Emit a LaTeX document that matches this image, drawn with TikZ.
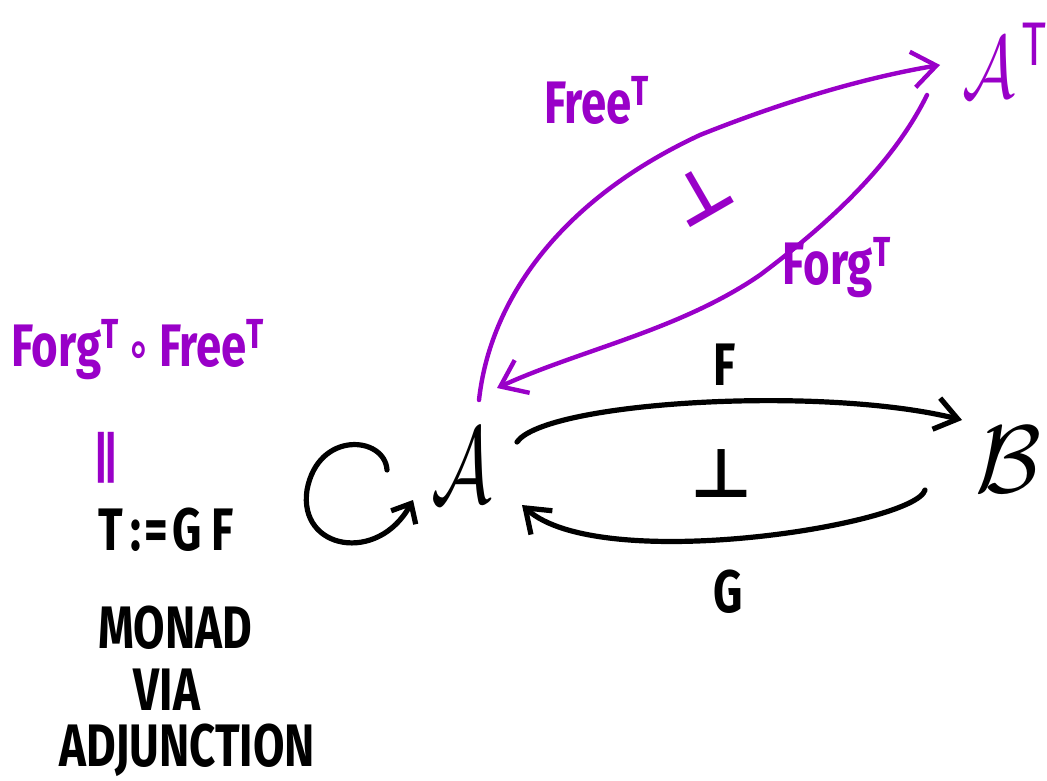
\documentclass[tikz,border=0pt]{standalone}
\usepackage{fontspec}
\setmainfont{Fira Sans}
\newfontfamily\dv{DejaVu Sans}
\usetikzlibrary{arrows.meta}
\definecolor{pur}{RGB}{153,0,200}
\begin{document}
\begin{tikzpicture}[x=0.5pt,y=-0.5pt,
  lbl/.style={inner sep=0pt, font=\fontsize{30}{36}\selectfont\bfseries, xscale=0.76},
  mth/.style={inner sep=0pt, font=\fontsize{10}{12}\selectfont},
  sy/.style={inner sep=0pt, font=\fontsize{34}{36}\selectfont\dv\bfseries},
  blk/.style={line width=2.6pt, line cap=round, -{Straight Barb[length=11pt,width=16pt,line width=2.6pt]}},
  prp/.style={pur, line width=2.2pt, line cap=round, -{Straight Barb[length=12pt,width=18pt,line width=2.2pt]}},
]
\useasboundingbox (0,0) rectangle (1047,780);

% objects
\node[mth, scale=5.4, xscale=0.7] (A) at (462,466) {$\mathcal{A}$};
\node[mth, scale=4.8] (B) at (1008,460) {$\mathcal{B}$};
\node[mth, pur, scale=4.4, xscale=0.75] (AT) at (1006,60) {$\mathcal{A}$\textsuperscript{\,T}};

% labels
\node[lbl] (Flab) at (725,365) {F};
\node[lbl] (Glab) at (728,592) {G};
\node[sy] (adj) at (722,474) {⊥};
\node[lbl, pur] (FreeT) at (597,100) {Free\textsuperscript{T}};
\node[lbl, pur] (ForgT) at (837,268) {Forg\textsuperscript{T}};
\node[sy, pur, font=\fontsize{34}{36}\selectfont\dv\bfseries, rotate=30] (adjT) at (700,194) {⊥};

% left column
\node[lbl, pur] (comp) at (138,350) {Forg\textsuperscript{T}\,{\dv\bfseries\fontsize{26}{28}\selectfont ∘}\,Free\textsuperscript{T}};
\node[sy, pur, font=\fontsize{26}{28}\selectfont\dv\bfseries] (eq) at (105,458) {∥};
\node[lbl] (Tdef) at (166,530) {T\hspace{5pt}:\hspace{2pt}=\hspace{3pt}G\hspace{6pt}F};
\node[lbl] (monad) at (175,628) {MONAD};
\node[lbl] (via) at (167,690) {VIA};
\node[lbl] (adjunction) at (187,750) {ADJUNCTION};

% connector ends
\coordinate (fs) at (517,442);
\coordinate (fe) at (962,420);
\coordinate (gs) at (925,490);
\coordinate (ge) at (522,505);
\coordinate (frs) at (479,400);
\coordinate (fre) at (940,65);
\coordinate (fos) at (927,95);
\coordinate (foe) at (497,388);
\coordinate (ls) at (387,470);
\coordinate (le) at (413,500);

% black adjunction
\draw[blk] (fs) .. controls (545,402) and (820,385) .. (fe);
\draw[blk] (gs) .. controls (915,525) and (600,575) .. (ge);
% loop (monad)
\draw[line width=2.6pt, line cap=round, -{Straight Barb[length=8pt,width=14pt,line width=2.6pt]}]
  (ls) .. controls (385,436) and (318,430) .. (307,490)
       .. controls (298,550) and (378,564) .. (le);
% purple adjunction
\draw[prp] (frs) .. controls (490,300) and (560,200) .. (700,135)
                 .. controls (800,95) and (880,75) .. (fre);
\draw[prp] (fos) .. controls (890,170) and (820,230) .. (760,275)
                 .. controls (680,330) and (580,350) .. (foe);
\end{tikzpicture}
\end{document}
